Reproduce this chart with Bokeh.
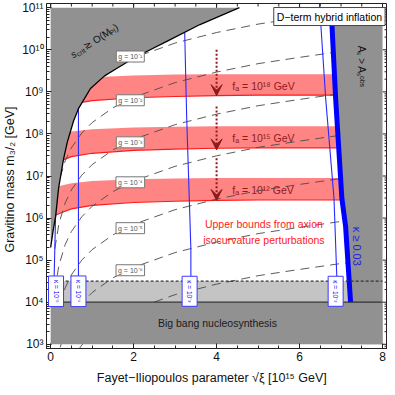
import numpy as np
from bokeh.plotting import figure
from bokeh.models import (Range1d, Label, Arrow, VeeHead, CustomJSTickFormatter, FixedTicker)
from bokeh.embed import file_html
from bokeh.resources import INLINE

FONT = "Liberation Sans"

# ---------------- data (masses given as log10(m_3/2 / GeV)) ----------------
x_lo, x_hi = 0.0, 8.0
log_lo, log_hi = 3.0, 11.0
bbn_solid_log = 4.0
bbn_dashed_log = 4.5

y_ticks_log = [3, 4, 5, 6, 7, 8, 9, 10, 11]
x_ticks = [0, 2, 4, 6, 8]

# boundary s_crit >~ O(M_Pl)
scrit_x = [0.0, 0.06, 0.12, 0.19, 0.31, 0.40, 0.55, 0.67, 0.96, 1.3, 1.6, 2.0, 2.4, 2.8, 3.6, 4.55]
scrit_log = [5.3, 5.7, 6.04, 6.7, 7.4, 7.8, 8.3, 8.6, 9.08, 9.38, 9.56, 9.8, 10.0, 10.2, 10.6, 11.0]

# kappa >~ 0.03 boundary (thick blue)
kthick_x = [6.76, 6.87, 7.02, 7.11, 7.23]
kthick_log = [11.0, 8.84, 6.47, 5.80, 4.0]

# thin kappa lines
kappa_text = ["κ = 10⁻⁵", "κ = 10⁻⁴", "κ = 10⁻³", "κ = 10⁻²"]
k5_x, k5_log = [0.12, 0.07], [6.1, 4.0]
k4_x, k4_log = [0.67, 0.67], [8.6, 4.0]
k3_x, k3_log = [3.23, 3.28, 3.38, 3.38], [10.46, 8.37, 5.28, 4.0]
k2_x, k2_log = [6.48, 6.63, 6.83, 6.92], [11.09, 8.84, 6.47, 4.0]
kappa_label_x = [0.13, 0.67, 3.35, 6.87]
kappa_label_log = 4.26

# axion isocurvature bands
band_x = [0.05, 0.1, 0.24, 0.5, 1, 2, 3, 4, 5, 6, 7, 7.4]
band_text = ["fₐ = 10¹⁸ GeV", "fₐ = 10¹⁵ GeV", "fₐ = 10¹² GeV"]
band1_lo = [8.49, 8.55, 8.61, 8.71, 8.79, 8.86, 8.89, 8.91, 8.92, 8.92, 8.92, 8.92]
band1_hi = [9.17, 9.20, 9.24, 9.30, 9.35, 9.39, 9.41, 9.42, 9.42, 9.42, 9.42, 9.42]
band2_lo = [7.24, 7.30, 7.36, 7.46, 7.54, 7.61, 7.64, 7.66, 7.67, 7.67, 7.67, 7.67]
band2_hi = [7.93, 7.96, 8.00, 8.06, 8.11, 8.15, 8.17, 8.18, 8.18, 8.18, 8.18, 8.18]
band3_lo = [6.00, 6.06, 6.12, 6.22, 6.30, 6.37, 6.40, 6.42, 6.43, 6.43, 6.43, 6.43]
band3_hi = [6.70, 6.73, 6.77, 6.83, 6.88, 6.92, 6.94, 6.95, 6.95, 6.95, 6.95, 6.95]
band_label_log = [9.15, 7.9, 6.66]
arrow_start_log = [10.0, 8.65, 7.42]
arrow_end_log = [8.91, 7.62, 6.42]
arrow_x = 4.0

# constant-g contours
g_x = [0.1, 0.2, 0.35, 0.5, 0.75, 1, 1.5, 2, 3, 4, 5, 6, 7, 7.5]
g1_log = [7.21, 7.81, 8.30, 8.61, 8.96, 9.21, 9.56, 9.81, 10.16, 10.41, 10.61, 10.76, 10.90, 10.96]
g2_log = [6.27, 6.87, 7.36, 7.67, 8.02, 8.27, 8.62, 8.87, 9.22, 9.47, 9.67, 9.82, 9.96, 10.02]
g3_log = [5.27, 5.87, 6.36, 6.67, 7.02, 7.27, 7.62, 7.87, 8.22, 8.47, 8.67, 8.82, 8.96, 9.02]
g4_log = [4.28, 4.88, 5.37, 5.68, 6.03, 6.28, 6.63, 6.88, 7.23, 7.48, 7.68, 7.83, 7.97, 8.03]
g5_log = [3.25, 3.85, 4.34, 4.65, 5.00, 5.25, 5.60, 5.85, 6.20, 6.45, 6.65, 6.80, 6.94, 7.00]
g6_log = [2.23, 2.83, 3.32, 3.63, 3.98, 4.23, 4.58, 4.83, 5.18, 5.43, 5.63, 5.78, 5.92, 5.98]
g7_log = [1.23, 1.83, 2.32, 2.63, 2.98, 3.23, 3.58, 3.83, 4.18, 4.43, 4.63, 4.78, 4.92, 4.98]
g_text = ["g = 10⁻¹", "g = 10⁻²", "g = 10⁻³", "g = 10⁻⁴", "g = 10⁻⁵", "g = 10⁻⁶"]
g_label_x = 1.92
g_label_log = [9.84, 8.80, 7.80, 6.85, 5.76, 4.76]


def m(v):
    return np.power(10.0, np.asarray(v, dtype=float))


DARK = "#919191"
LIGHT = "#c4c4c4"
BLUE = "#0000ff"
RED = "#ff1a1a"
DARKRED = "#8f1a1a"
FRAME = "#222222"

XR = (-0.1, 8.12)
YR = (2.9, 11.1)

p = figure(width=387, height=387, x_range=Range1d(*XR), y_range=Range1d(10**YR[0], 10**YR[1]),
           y_axis_type="log", output_backend="svg", toolbar_location=None,
           min_border_left=4, min_border_right=0, min_border_top=3, min_border_bottom=36,
           background_fill_color="white", border_fill_color="white")
p.grid.visible = False
p.outline_line_color = FRAME

x_minor = [0.5 * i for i in range(0, 17)]
y_minor = [k * 10.0**e for e in range(2, 12) for k in range(2, 10)]

# axes
p.xaxis.ticker = FixedTicker(ticks=x_ticks, minor_ticks=x_minor)
p.yaxis.ticker = FixedTicker(ticks=list(m(y_ticks_log)), minor_ticks=y_minor)
p.yaxis.formatter = CustomJSTickFormatter(code="""
const sup = {'0':'⁰','1':'¹','2':'²','3':'³','4':'⁴','5':'⁵','6':'⁶','7':'⁷','8':'⁸','9':'⁹','-':'⁻'};
const e = Math.round(Math.log10(tick));
return '10' + String(e).split('').map(c => sup[c]).join('');
""")
for ax in (p.xaxis[0], p.yaxis[0]):
    ax.major_tick_in = 5
    ax.major_tick_out = 0
    ax.minor_tick_in = 3
    ax.minor_tick_out = 0
    ax.axis_line_color = FRAME
    ax.major_tick_line_color = FRAME
    ax.minor_tick_line_color = FRAME
    ax.major_label_text_font = FONT
    ax.major_label_text_font_size = "12px"
    ax.major_label_text_color = "#111111"
    ax.axis_label_text_font = FONT
    ax.axis_label_text_font_size = "12.5px"
    ax.axis_label_text_font_style = "normal"
    ax.axis_label_text_color = "#111111"
p.xaxis.axis_label = "Fayet−Iliopoulos  parameter  √ξ  [10¹⁵ GeV]"
p.yaxis.axis_label = "Gravitino  mass  m₃/₂ [GeV]"
p.xaxis.major_label_standoff = 3
p.xaxis.axis_label_standoff = 7
p.yaxis.major_label_standoff = 3
p.yaxis.axis_label_standoff = 2

# approximate screen scale of the frame (used only for tick lengths / label offsets)
PX_X = 41.3   # px per x unit
PX_D = 42.0   # px per decade

# mirrored frame ticks on the right and top edges
major_len, minor_len = 5.0, 3.0
xr_in_major = XR[1] - major_len / PX_X
xr_in_minor = XR[1] - minor_len / PX_X
p.segment(x0=[xr_in_major] * len(y_ticks_log), x1=[XR[1]] * len(y_ticks_log),
          y0=list(m(y_ticks_log)), y1=list(m(y_ticks_log)), line_color=FRAME, line_width=1)
p.segment(x0=[xr_in_minor] * len(y_minor), x1=[XR[1]] * len(y_minor),
          y0=y_minor, y1=y_minor, line_color=FRAME, line_width=1)
yt_major = 10**(YR[1] - major_len / PX_D)
yt_minor = 10**(YR[1] - minor_len / PX_D)
p.segment(x0=x_ticks, x1=x_ticks, y0=[yt_major] * len(x_ticks), y1=[10**YR[1]] * len(x_ticks),
          line_color=FRAME, line_width=1)
p.segment(x0=x_minor, x1=x_minor, y0=[yt_minor] * len(x_minor), y1=[10**YR[1]] * len(x_minor),
          line_color=FRAME, line_width=1)

# light grey band between the BBN lines
p.quad(left=x_lo, right=x_hi, bottom=10**bbn_solid_log, top=10**bbn_dashed_log,
       fill_color=LIGHT, line_color=None)

# red bands
for lo, hi in ((band1_lo, band1_hi), (band2_lo, band2_hi), (band3_lo, band3_hi)):
    xs = list(band_x) + list(band_x[::-1])
    ys = list(m(lo)) + list(m(hi[::-1]))
    p.patch(xs, ys, fill_color="#ff0000", fill_alpha=0.48, line_color=None)
    p.line(band_x, m(lo), line_color=RED, line_width=1.2)

# g contours
for gl in (g1_log, g2_log, g3_log, g4_log, g5_log, g6_log, g7_log):
    p.line(g_x, m(gl), line_color="#4a4a4a", line_width=0.9, line_dash="9 6")

# thin kappa lines
for kx, kl in ((k5_x, k5_log), (k4_x, k4_log), (k3_x, k3_log), (k2_x, k2_log)):
    p.line(kx, m(kl), line_color="#2a2aff", line_width=1.1)

# grey excluded regions
p.patch(list(scrit_x) + [x_lo], list(m(scrit_log)) + [10**log_hi],
        fill_color=DARK, line_color=None)
p.patch(list(kthick_x) + [kthick_x[-1], x_hi, x_hi],
        list(m(kthick_log)) + [10**log_lo, 10**log_lo, 10**log_hi],
        fill_color=DARK, line_color=None)
p.quad(left=x_lo, right=x_hi, bottom=10**log_lo, top=10**bbn_solid_log,
       fill_color=DARK, line_color=None)

# boundary lines
p.line(scrit_x, m(scrit_log), line_color="black", line_width=1.3)
p.line(kthick_x, m(kthick_log), line_color=BLUE, line_width=5)
p.line([x_lo, x_hi], [10**bbn_solid_log] * 2, line_color="#333333", line_width=1.3)
p.line([x_lo, x_hi], [10**bbn_dashed_log] * 2, line_color="#333333", line_width=1.3,
       line_dash="3 2")

# arrows
for s, e in zip(arrow_start_log, arrow_end_log):
    p.add_layout(Arrow(x_start=arrow_x, y_start=10**s, x_end=arrow_x, y_end=10**e,
                       line_color=DARKRED, line_width=2, line_dash="2 2",
                       end=VeeHead(size=11, fill_color=DARKRED, line_color=DARKRED,
                                   line_width=1)))

# band labels
for t, yl in zip(band_text, band_label_log):
    p.add_layout(Label(x=4.38, y=10**yl, text=t, text_font=FONT, text_font_size="10.5px",
                       text_color=DARKRED, text_baseline="middle", text_align="left"))

# g labels
for t, yl in zip(g_text, g_label_log):
    p.add_layout(Label(x=g_label_x, y=10**yl, text=t, text_font=FONT, text_font_size="7px",
                       text_color="#555555", text_baseline="middle", text_align="center",
                       background_fill_color="white", border_line_color="#777777",
                       border_line_width=1, padding=2))

# kappa labels
for t, kx in zip(kappa_text, kappa_label_x):
    p.add_layout(Label(x=kx, y=10**kappa_label_log, text=t, text_font=FONT,
                       text_font_size="6.5px", text_color=BLUE, angle=-np.pi / 2,
                       text_baseline="middle", text_align="center",
                       background_fill_color="white", border_line_color="#3a3aff",
                       border_line_width=1, padding=4))

# other texts
p.add_layout(Label(x=6.72, y=10**10.79, text="D−term hybrid inflation", text_font=FONT,
                   text_font_size="10.5px", text_color="black", text_baseline="middle",
                   text_align="center", background_fill_color="white",
                   border_line_color="#444444", border_line_width=1, padding=3))
p.add_layout(Label(x=5.14, y=10**5.87, text="Upper bounds from axion", text_font=FONT,
                   text_font_size="10.5px", text_color=RED, text_baseline="middle",
                   text_align="center"))
p.add_layout(Label(x=5.14, y=10**5.47, text="isocurvature perturbations", text_font=FONT,
                   text_font_size="10.5px", text_color=RED, text_baseline="middle",
                   text_align="center"))
p.add_layout(Label(x=4.02, y=10**3.5, text="Big bang nucleosynthesis", text_font=FONT,
                   text_font_size="10.5px", text_color="#1a1a1a", text_baseline="middle",
                   text_align="center"))
p.add_layout(Label(x=7.38, y=10**5.33, text="κ ≥ 0.03", text_font=FONT,
                   text_font_size="11px", text_color="#2020e0", text_baseline="middle",
                   text_align="center", angle=-np.pi / 2))
p.add_layout(Label(x=7.5, y=10**9.6, text="Aₛ > Aₛᵒᵇˢ", text_font=FONT,
                   text_font_size="10px", text_color="#111111", text_baseline="middle",
                   text_align="center", angle=-np.pi / 2))

# rotated s_crit label built from pieces
th = np.deg2rad(33)
x0, l0 = 0.5, 9.86
pieces = [("s", 0.0, 0.0, "10px", "italic"),
          ("crit", 5.2, 2.5, "7px", "normal"),
          ("≳ O(M", 15.5, 0.0, "10px", "normal"),
          ("Pl", 44.5, 2.5, "7px", "normal"),
          (")", 51.0, 0.0, "10px", "normal")]
for t, d, v, fs, st in pieces:
    sx = d * np.cos(th) + v * np.sin(th)
    sy = -d * np.sin(th) + v * np.cos(th)
    p.add_layout(Label(x=x0 + sx / PX_X, y=10**(l0 - sy / PX_D), text=t, text_font=FONT,
                       text_font_size=fs, text_font_style=st, text_color="#111111",
                       text_baseline="middle", text_align="left", angle=th))

open("out.html", "w").write(file_html(p, INLINE))
